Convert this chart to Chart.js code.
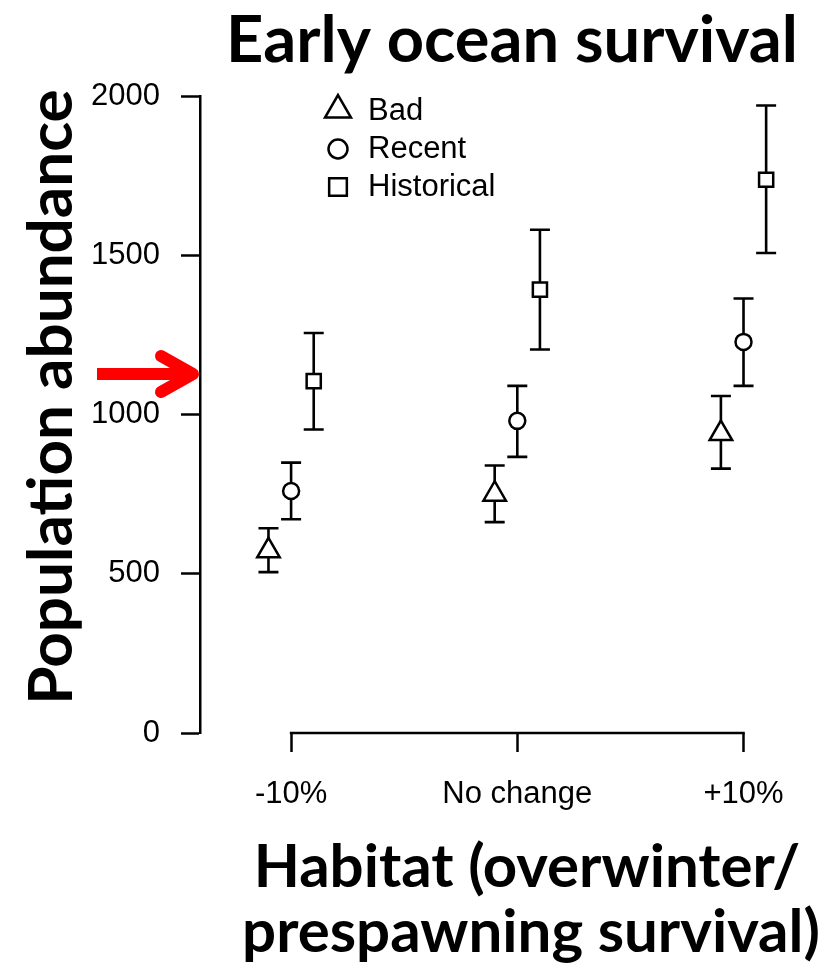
<!DOCTYPE html>
<html>
<head>
<meta charset="utf-8">
<script src="https://cdn.jsdelivr.net/npm/chart.js@4/dist/chart.umd.min.js"></script>
<style>
  html, body { margin: 0; padding: 0; background: #fff; }
  #wrap { width: 821px; height: 968px; }
</style>
</head>
<body>
<div id="wrap"><canvas id="chart" width="821" height="968"></canvas></div>
<script>
const habitat = ['-10%', 'No change', '+10%'];
const yTicks = [0, 500, 1000, 1500, 2000];

// mean abundance and interval ends for each ocean survival scenario
const bad = [572, 750, 940];
const badLow = [505, 662, 830];
const badHigh = [643, 840, 1058];
const recent = [760, 980, 1228];
const recentLow = [671, 867, 1090];
const recentHigh = [849, 1090, 1364];
const historical = [1105, 1392, 1737];
const historicalLow = [953, 1204, 1507];
const historicalHigh = [1256, 1580, 1970];

// current abundance level marked by the arrow
const arrowAt = 1127;

const SANS = '"Liberation Sans", Arial, sans-serif';
const BOLD = 'Lato, "Open Sans", sans-serif';
Chart.defaults.font.family = SANS;
Chart.defaults.color = '#000';

function series(label, values, low, high, shift, style, radius) {
  return {
    label,
    data: values.map((v, i) => ({ x: i + shift, y: v })),
    low,
    high,
    pointStyle: style,
    pointRadius: radius,
    pointHoverRadius: radius,
    pointBorderWidth: 2.5,
    borderColor: '#000',
    backgroundColor: '#fff',
    pointBorderColor: '#000',
    pointBackgroundColor: '#fff',
    showLine: false
  };
}

const datasets = [
  series('Bad', bad, badLow, badHigh, -0.1, 'triangle', 13),
  series('Recent', recent, recentLow, recentHigh, 0, 'circle', 8),
  series('Historical', historical, historicalLow, historicalHigh, 0.1, 'rect', 10)
];

// vertical intervals with caps, drawn under the point markers
const errorBars = {
  id: 'errorBars',
  beforeDatasetsDraw(chart) {
    const { ctx } = chart;
    const y = chart.scales.y;
    ctx.save();
    ctx.strokeStyle = '#000';
    ctx.lineWidth = 2.6;
    chart.data.datasets.forEach((ds, d) => {
      chart.getDatasetMeta(d).data.forEach((pt, i) => {
        const top = y.getPixelForValue(ds.high[i]);
        const bottom = y.getPixelForValue(ds.low[i]);
        ctx.beginPath();
        ctx.moveTo(pt.x, top);
        ctx.lineTo(pt.x, bottom);
        ctx.moveTo(pt.x - 10, top);
        ctx.lineTo(pt.x + 10, top);
        ctx.moveTo(pt.x - 10, bottom);
        ctx.lineTo(pt.x + 10, bottom);
        ctx.stroke();
      });
    });
    ctx.restore();
  }
};

// x axis line between first and last category, legend, arrow and titles
const extras = {
  id: 'extras',
  afterDraw(chart) {
    const { ctx, chartArea } = chart;
    const x = chart.scales.x;
    const y = chart.scales.y;
    ctx.save();

    const base = y.getPixelForValue(0);
    ctx.strokeStyle = '#000';
    ctx.lineWidth = 2.5;
    ctx.beginPath();
    ctx.moveTo(x.getPixelForValue(0) - 1.25, base);
    ctx.lineTo(x.getPixelForValue(habitat.length - 1) + 1.25, base);
    ctx.stroke();

    // legend
    const rows = [15, 53, 91];
    const legendRadius = [15, 9.5, 12.5];
    ctx.font = '31px ' + SANS;
    ctx.textBaseline = 'middle';
    ctx.textAlign = 'left';
    chart.data.datasets.forEach((ds, d) => {
      const ly = chartArea.top + rows[d];
      const lx = chartArea.left + 138;
      ctx.fillStyle = '#fff';
      ctx.strokeStyle = '#000';
      ctx.lineWidth = 2.5;
      Chart.helpers.drawPoint(ctx, {
        pointStyle: ds.pointStyle,
        radius: legendRadius[d],
        rotation: 0,
        borderWidth: 2.5
      }, lx, ly - (ds.pointStyle === 'triangle' ? 1 : 0));
      ctx.fillStyle = '#000';
      ctx.fillText(ds.label, lx + 30, ly);
    });

    // red arrow pointing at the y axis
    const ay = y.getPixelForValue(arrowAt);
    const tip = chartArea.left - 7;
    ctx.strokeStyle = '#ff0000';
    ctx.lineWidth = 12;
    ctx.lineCap = 'butt';
    ctx.beginPath();
    ctx.moveTo(97, ay);
    ctx.lineTo(tip - 4, ay);
    ctx.stroke();
    ctx.lineCap = 'round';
    ctx.lineJoin = 'round';
    ctx.beginPath();
    ctx.moveTo(tip - 32, ay - 18);
    ctx.lineTo(tip, ay);
    ctx.lineTo(tip - 32, ay + 18);
    ctx.stroke();

    // titles
    ctx.fillStyle = '#000';
    ctx.textAlign = 'center';
    ctx.textBaseline = 'alphabetic';
    ctx.font = 'bold 65px ' + BOLD;
    ctx.fillText('Early ocean survival', 512, 62);
    ctx.font = 'bold 62px ' + BOLD;
    ctx.save();
    ctx.translate(72, 397);
    ctx.rotate(-Math.PI / 2);
    ctx.fillText('Population abundance', 0, 0);
    ctx.restore();
    ctx.font = 'bold 60px ' + BOLD;
    ctx.fillText('Habitat (overwinter/', 527, 887);
    ctx.fillText('prespawning survival)', 531, 952);

    ctx.restore();
  }
};

new Chart(document.getElementById('chart'), {
  type: 'scatter',
  data: { datasets },
  plugins: [errorBars, extras],
  options: {
    responsive: false,
    animation: false,
    layout: { padding: { top: 96, left: 0, right: 0, bottom: 0 } },
    plugins: {
      legend: { display: false },
      tooltip: { enabled: false },
      title: { display: false }
    },
    scales: {
      x: {
        type: 'linear',
        min: -0.4027,
        max: 2.274,
        afterFit: s => {
          s.height = 235;
          s.paddingLeft = 0;
          s.paddingRight = 0;
        },
        afterBuildTicks: s => { s.ticks = habitat.map((_, i) => ({ value: i })); },
        ticks: {
          callback: v => habitat[v],
          font: { size: 31 },
          color: '#000',
          padding: 24,
          maxRotation: 0,
          autoSkip: false
        },
        grid: { drawOnChartArea: false, drawTicks: true, tickLength: 19, tickWidth: 2.5, tickColor: '#000' },
        border: { display: false }
      },
      y: {
        min: 0,
        max: 2000,
        afterFit: s => {
          s.width = 200;
          s.paddingTop = 0;
          s.paddingBottom = 0;
        },
        afterBuildTicks: s => { s.ticks = yTicks.map(v => ({ value: v })); },
        ticks: {
          callback: v => String(v),
          font: { size: 31 },
          color: '#000',
          padding: 21
        },
        grid: { drawOnChartArea: false, drawTicks: true, tickLength: 19, tickWidth: 2.5, tickColor: '#000' },
        border: { display: true, color: '#000', width: 2.5 }
      }
    }
  }
});
</script>
</body>
</html>
